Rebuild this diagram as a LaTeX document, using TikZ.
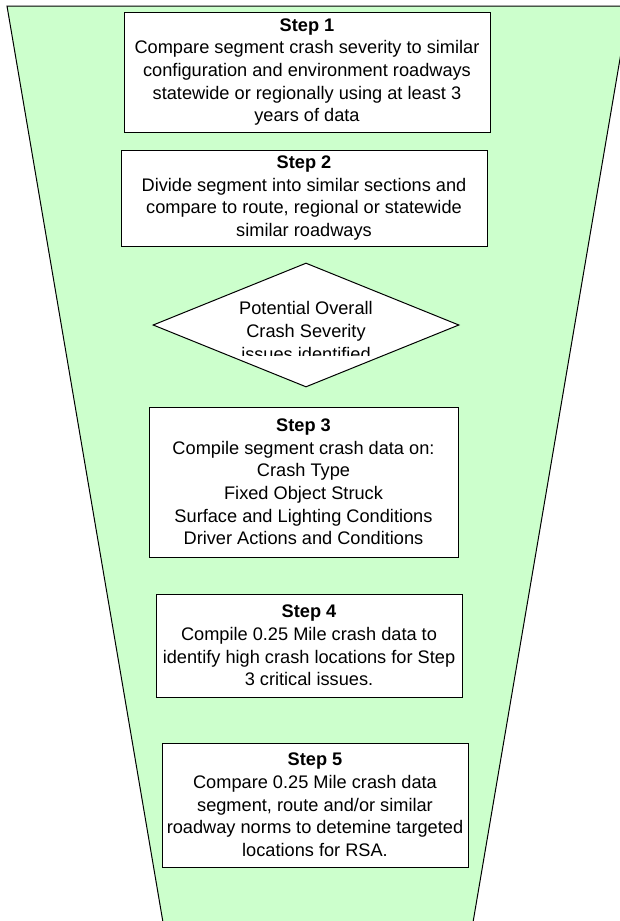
\documentclass[tikz,border=0pt]{standalone}
\usepackage{fontspec}
\setmainfont{Liberation Sans}
\usetikzlibrary{shapes.geometric}
\definecolor{funnelgreen}{RGB}{204,255,204}

\begin{document}
\begin{tikzpicture}
[x=0.75pt,y=-0.75pt,
% Styles
stepbox/.style={draw,fill=white,line width=0.75pt,align=center,inner sep=0pt,
  font=\fontsize{13.65pt}{17pt}\selectfont},
decision/.style={diamond,draw,fill=white,line width=0.75pt,inner sep=0pt},
decision text/.style={align=center,inner sep=0pt,
  font=\fontsize{13.65pt}{17pt}\selectfont}]
\clip (0,0) rectangle (620,921);
% The funnel
\filldraw[fill=funnelgreen,line width=0.75pt] (7,6) -- (629,6) -- (470,940) -- (166,940) -- cycle;
% The steps
\node[stepbox,minimum width=274.5pt,minimum height=90pt] (step1) at (307,72)
{\textbf{Step 1}\\Compare segment crash severity to similar\\configuration and environment roadways\\statewide or regionally using at least 3\\years of data};
\node[stepbox,minimum width=274.5pt,minimum height=72pt] (step2) at (304,198)
{\textbf{Step 2}\\Divide segment into similar sections and\\compare to route, regional or statewide\\similar roadways};
\node[decision,minimum width=229.5pt,minimum height=93pt] (issues) at (306,325) {};
\begin{scope}
\clip (0,0) rectangle (620,355);
\node[decision text] (issues text) at (306,331) {Potential Overall\\Crash Severity\\issues identified};
\end{scope}
\node[stepbox,minimum width=231.75pt,minimum height=112.5pt] (step3) at (303.5,482)
{\textbf{Step 3}\\Compile segment crash data on:\\Crash Type\\Fixed Object Struck\\Surface and Lighting Conditions\\Driver Actions and Conditions};
\node[stepbox,minimum width=229.5pt,minimum height=77.25pt] (step4) at (309,645.5)
{\textbf{Step 4}\\Compile 0.25 Mile crash data to\\identify high crash locations for Step\\3 critical issues.};
\node[stepbox,minimum width=229.5pt,minimum height=93pt] (step5) at (315,805)
{\textbf{Step 5}\\Compare 0.25 Mile crash data\\segment, route and/or similar\\roadway norms to detemine targeted\\locations for RSA.};
\end{tikzpicture}
\end{document}
